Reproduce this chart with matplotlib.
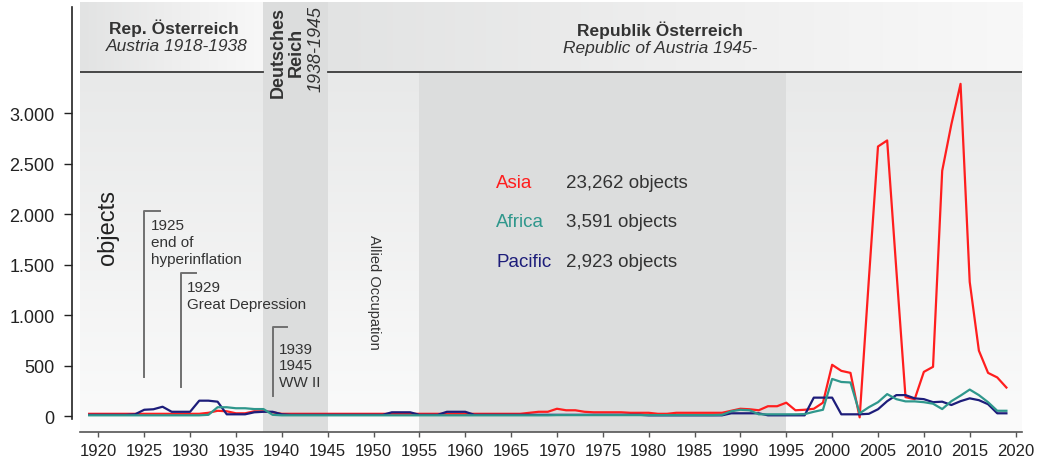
import numpy as np
import matplotlib.pyplot as plt
from matplotlib.colors import LinearSegmentedColormap

plt.rcParams["font.family"] = ["Liberation Sans", "DejaVu Sans"]

years = list(range(1919, 2020))

asia = (
    [25]
    + [25, 25, 25, 25, 25, 25, 25, 25, 25, 25]
    + [25, 25, 35, 55, 50, 30, 30, 50, 50, 40]
    + [25] * 10
    + [25] * 10
    + [25, 25, 25, 25, 25, 25, 25, 35, 45, 45]
    + [75, 60, 60, 45, 40, 40, 40, 40, 35, 35]
    + [35, 25, 25, 35, 35, 35, 35, 35, 35, 55]
    + [75, 70, 60, 100, 100, 135, 60, 65, 75, 135]
    + [510, 450, 430, -10, 1350, 2670, 2730, 1450, 190, 170]
    + [440, 490, 2430, 2890, 3290, 1330, 650, 430, 385, 285]
)

africa = (
    [10]
    + [10] * 10
    + [10, 10, 15, 90, 90, 80, 80, 72, 72, 15]
    + [10] * 10
    + [10] * 10
    + [10] * 10
    + [12] * 10
    + [12, 12, 12, 12, 12, 12, 12, 12, 15, 50]
    + [65, 60, 20, 20, 20, 20, 20, 22, 45, 65]
    + [370, 340, 335, 30, 90, 140, 220, 170, 148, 148]
    + [140, 125, 72, 150, 205, 265, 210, 140, 55, 55]
)

pacific = (
    [15]
    + [15, 15, 15, 15, 20, 65, 70, 95, 45, 45]
    + [45, 155, 155, 145, 20, 20, 20, 40, 45, 45]
    + [20, 15, 15, 15, 15, 15, 15, 15, 15, 15]
    + [15, 15, 40, 40, 40, 15, 15, 15, 45, 45]
    + [45, 15, 15, 15, 15, 15, 15, 15, 15, 15]
    + [15] * 10
    + [10, 10, 10, 10, 10, 10, 10, 10, 10, 30]
    + [30, 30, 30, 10, 10, 10, 10, 10, 185, 185]
    + [185, 20, 20, 20, 25, 70, 150, 210, 210, 178]
    + [170, 140, 145, 112, 150, 178, 160, 120, 30, 30]
)

series_names = ["Asia", "Africa", "Pacific"]
series_totals = ["23,262 objects", "3,591 objects", "2,923 objects"]
series_colors = ["#ff1e1e", "#2f978c", "#1d1d7a"]

x_ticks = list(range(1920, 2021, 5))
y_ticks = [0, 500, 1000, 1500, 2000, 2500, 3000]
y_tick_labels = ["0", "500", "1.000", "1.500", "2.000", "2.500", "3.000"]

X0, X1 = 1918, 2020.7
Y0, Y1 = -155, 4100
HEADER = 3409
TEXT = "#333333"

figure = plt.figure(figsize=(10.43, 4.64), dpi=100)
axes = figure.add_axes([80 / 1043, 31 / 464, 942 / 1043, 430 / 464])

# background gradients
vertical = np.linspace(0, 1, 256).reshape(-1, 1)
horizontal = np.linspace(0, 1, 256).reshape(1, -1)
bg_cmap = LinearSegmentedColormap.from_list("bg", ["#fbfbfb", "#e8e9e9"])
head_cmap = LinearSegmentedColormap.from_list("head", ["#e2e3e3", "#eeeeee", "#f8f8f8"])

axes.imshow(vertical, extent=[X0, X1, Y0, HEADER], origin="lower",
            aspect="auto", cmap=bg_cmap, zorder=0)
for start, end in [(X0, 1938), (1945, X1)]:
    axes.imshow(horizontal, extent=[start, end, HEADER, Y1], origin="lower",
                aspect="auto", cmap=head_cmap, zorder=0)

axes.fill_between([1938, 1945], Y0, Y1, color="#dcdddd", zorder=1, lw=0)
axes.fill_between([1955, 1995], Y0, HEADER, color="#dcdddd", zorder=1, lw=0)

axes.plot([X0, 1938], [HEADER, HEADER], color="#3a3a3a", lw=1.3, zorder=2)
axes.plot([1945, X1], [HEADER, HEADER], color="#3a3a3a", lw=1.3, zorder=2)

# header texts
axes.text(1928.2, 3855, "Rep. Österreich", ha="center", va="center",
          fontsize=12.5, fontweight="bold", color=TEXT)
axes.text(1928.5, 3670, "Austria 1918-1938", ha="center", va="center",
          fontsize=12.5, style="italic", color=TEXT)
axes.text(1981.2, 3830, "Republik Österreich", ha="center", va="center",
          fontsize=12.5, fontweight="bold", color=TEXT)
axes.text(1981.2, 3650, "Republic of Austria 1945-", ha="center", va="center",
          fontsize=12.5, style="italic", color=TEXT)
axes.text(1940.6, 3615, "Deutsches\nReich", ha="center", va="center",
          rotation=90, fontsize=13, fontweight="bold", color=TEXT,
          linespacing=1.05)
axes.text(1943.7, 3640, "1938-1945", ha="center", va="center",
          rotation=90, fontsize=13, style="italic", color=TEXT)

# event markers
events = [
    (1925, 389, 2033, 1926.7, "1925\nend of\nhyperinflation", 1960),
    (1929, 290, 1417, 1930.6, "1929\nGreat Depression", 1345),
    (1939, 201, 884, 1940.6, "1939\n1945\nWW II", 740),
]
for year, low, high, hook, label, label_y in events:
    axes.plot([year, year, hook], [low, high, high], color="#707070",
              lw=1.4, zorder=2)
    axes.text(year + 0.7, label_y, label, ha="left", va="top", fontsize=11,
              color=TEXT, linespacing=1.25)

axes.text(1950, 1240, "Allied Occupation", ha="center", va="center",
          rotation=270, fontsize=10.5, color=TEXT)

axes.text(1921, 1874, "objects", ha="center", va="center", rotation=90,
          fontsize=17, color="#222222")

# series
for values, color in [(asia, series_colors[0]), (pacific, series_colors[2]),
                      (africa, series_colors[1])]:
    axes.plot(years, values, color=color, lw=1.6, zorder=3)

for row, (name, total, color) in enumerate(zip(series_names, series_totals, series_colors)):
    level = 2317 - row * 391
    axes.text(1963.4, level, name, ha="left", va="center", fontsize=13.5,
              color=color)
    axes.text(1971.0, level, total, ha="left", va="center", fontsize=13.5,
              color=TEXT)

axes.set_xlim(X0, X1)
axes.set_ylim(Y0, Y1)
axes.set_xticks(x_ticks)
axes.set_yticks(y_ticks)
axes.set_yticklabels(y_tick_labels)

for side in ["top", "right"]:
    axes.spines[side].set_visible(False)
axes.spines["left"].set_position(("outward", 5.8))
axes.spines["left"].set_bounds(-25, 4050)
axes.spines["left"].set_color("#222222")
axes.spines["left"].set_linewidth(1.2)
axes.spines["bottom"].set_color("#555555")
axes.spines["bottom"].set_linewidth(1.2)

axes.tick_params(axis="x", length=3.6, width=1, color="#555555",
                 labelsize=12, pad=4, labelcolor="#222222")
axes.tick_params(axis="y", length=5.5, width=1, color="#222222",
                 labelsize=13, pad=7, labelcolor="#222222")

figure.savefig("out.png", dpi=100)
plt.close(figure)
